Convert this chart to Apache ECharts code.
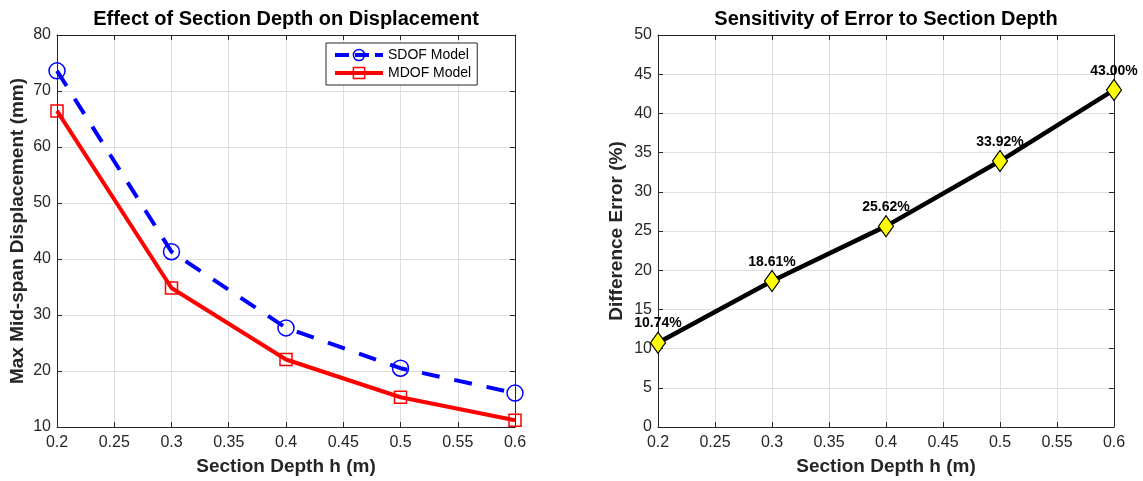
<!DOCTYPE html>
<html>
<head>
<meta charset="utf-8">
<script src="https://cdn.jsdelivr.net/npm/echarts@6/dist/echarts.min.js"></script>
<style>
html,body{margin:0;padding:0;background:#fff;}
#c{width:1143px;height:481px;}
</style>
</head>
<body>
<div id="c"></div>
<script>
// ---- data ----
const depth = [0.2, 0.3, 0.4, 0.5, 0.6];
const sdof = [73.6, 41.3, 27.7, 20.5, 16.05];
const mdof = [66.45, 34.82, 22.05, 15.31, 11.22];
const errorPct = [10.74, 18.61, 25.62, 33.92, 43.00];
const seriesNames = ['SDOF Model', 'MDOF Model'];
const titles = ['Effect of Section Depth on Displacement', 'Sensitivity of Error to Section Depth'];
const xName = 'Section Depth h (m)';
const yNames = ['Max Mid-span Displacement (mm)', 'Difference Error (%)'];

const FONT = "'Liberation Sans', Arial, Helvetica, sans-serif";
const AX = '#262626';
const GRIDC = '#dedede';

function pairs(xs, ys){ return xs.map((x,i)=>[x, ys[i]]); }
function fmtX(v){ return String(+(+v).toFixed(2)); }

function mainX(grid){
  return {
    type:'value', gridIndex:grid, position:'bottom', min:0.2, max:0.6, interval:0.05,
    name:xName, nameLocation:'middle', nameGap:30,
    nameTextStyle:{fontFamily:FONT, fontSize:19, fontWeight:'bold', color:AX},
    axisLine:{show:true, onZero:false, lineStyle:{color:AX, width:1}},
    axisTick:{show:true, inside:true, length:5, lineStyle:{color:AX}},
    axisLabel:{margin:8, fontFamily:FONT, fontSize:16, color:AX, formatter:fmtX},
    splitLine:{show:true, lineStyle:{color:GRIDC, width:1}}
  };
}
function boxX(grid){
  return {
    type:'value', gridIndex:grid, position:'top', min:0.2, max:0.6, interval:0.05,
    axisLine:{show:true, onZero:false, lineStyle:{color:AX, width:1}},
    axisTick:{show:true, inside:true, length:5, lineStyle:{color:AX}},
    axisLabel:{show:false}, splitLine:{show:false}
  };
}
function mainY(grid, min, max, interval, name, gap){
  return {
    type:'value', gridIndex:grid, position:'left', min:min, max:max, interval:interval,
    name:name, nameLocation:'middle', nameGap:gap,
    nameTextStyle:{fontFamily:FONT, fontSize:19, fontWeight:'bold', color:AX},
    axisLine:{show:true, onZero:false, lineStyle:{color:AX, width:1}},
    axisTick:{show:true, inside:true, length:5, lineStyle:{color:AX}},
    axisLabel:{margin:6, fontFamily:FONT, fontSize:16, color:AX},
    splitLine:{show:true, lineStyle:{color:GRIDC, width:1}}
  };
}
function boxY(grid, min, max, interval){
  return {
    type:'value', gridIndex:grid, position:'right', min:min, max:max, interval:interval,
    axisLine:{show:true, onZero:false, lineStyle:{color:AX, width:1}},
    axisTick:{show:true, inside:true, length:5, lineStyle:{color:AX}},
    axisLabel:{show:false}, splitLine:{show:false}
  };
}

const chart = echarts.init(document.getElementById('c'), null, {renderer:'canvas'});
chart.setOption({
  animation:false,
  backgroundColor:'#fff',
  title:[
    {text:titles[0], left:286, top:9, textAlign:'center', padding:0,
     textStyle:{fontFamily:FONT, fontSize:20, fontWeight:'bold', color:'#000'}},
    {text:titles[1], left:886, top:9, textAlign:'center', padding:0,
     textStyle:{fontFamily:FONT, fontSize:20, fontWeight:'bold', color:'#000'}}
  ],
  grid:[
    {left:57, right:628, top:35, bottom:53},
    {left:658, right:29, top:35, bottom:53}
  ],
  xAxis:[mainX(0), boxX(0), mainX(1), boxX(1)],
  yAxis:[
    mainY(0, 10, 80, 10, yNames[0], 30), boxY(0, 10, 80, 10),
    mainY(1, 0, 50, 5, yNames[1], 32), boxY(1, 0, 50, 5)
  ],
  legend:{
    data:[
      {name:seriesNames[0], lineStyle:{color:'#0000ff', width:4, type:[14,6]},
       itemStyle:{color:'rgba(255,255,255,0)', borderColor:'#0000ff', borderWidth:1.5}},
      {name:seriesNames[1], lineStyle:{color:'#ff0000', width:4, type:'solid'},
       itemStyle:{color:'rgba(255,255,255,0)', borderColor:'#ff0000', borderWidth:1.5}}
    ],
    orient:'vertical', left:326, top:43,
    backgroundColor:'#fff', borderColor:AX, borderWidth:1,
    padding:[5,6,5,7], itemWidth:48, itemHeight:14, itemGap:4,
    textStyle:{fontFamily:FONT, fontSize:14, color:'#000'}
  },
  series:[
    {
      name:seriesNames[0], type:'line', xAxisIndex:0, yAxisIndex:0,
      data:pairs(depth, sdof), color:'#0000ff',
      lineStyle:{color:'#0000ff', width:4, type:[18,15]},
      symbol:'circle', symbolSize:16,
      itemStyle:{color:'rgba(255,255,255,0)', borderColor:'#0000ff', borderWidth:1.5},
      z:3
    },
    {
      name:seriesNames[1], type:'line', xAxisIndex:0, yAxisIndex:0,
      data:pairs(depth, mdof), color:'#ff0000',
      lineStyle:{color:'#ff0000', width:4},
      symbol:'rect', symbolSize:12,
      itemStyle:{color:'rgba(255,255,255,0)', borderColor:'#ff0000', borderWidth:1.5},
      z:2
    },
    {
      name:'Difference Error', type:'line', xAxisIndex:2, yAxisIndex:2,
      data:pairs(depth, errorPct), color:'#000',
      lineStyle:{color:'#000', width:4.5},
      symbol:'diamond', symbolSize:[15,21],
      itemStyle:{color:'#ffff00', borderColor:'#000', borderWidth:1.2},
      label:{show:true, position:'top', distance:1, fontFamily:FONT, fontSize:14,
             fontWeight:'bold', color:'#000',
             formatter:p=>p.value[1].toFixed(2)+'%'}
    }
  ]
});
</script>
</body>
</html>
